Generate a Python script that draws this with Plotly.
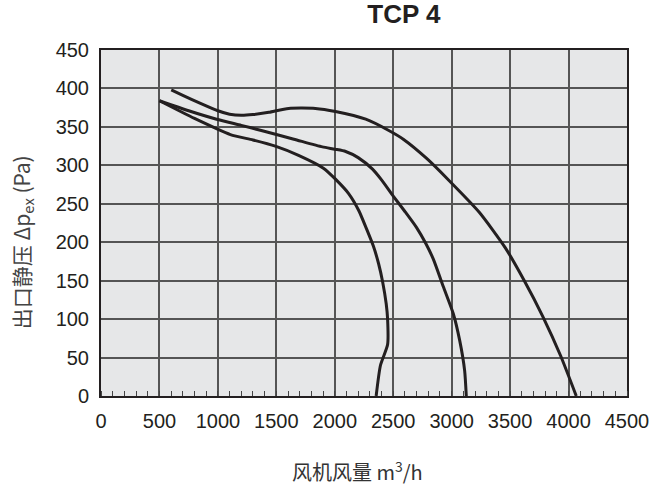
import plotly.graph_objects as go

# Curve data (airflow m3/h, static pressure Pa)
c1_x = [500, 800, 1107, 1300, 1491, 1690, 1906, 2006, 2120, 2206, 2270, 2330, 2375, 2410, 2440, 2452, 2452, 2391, 2354]
c1_y = [384, 361, 340, 333, 325, 313, 296, 282, 263, 241, 218, 195, 172, 148, 120, 100, 67, 40, 0]

c2_x = [500, 750, 989, 1200, 1380, 1650, 1894, 2000, 2093, 2200, 2323, 2400, 2500, 2600, 2700, 2780, 2843, 2929, 3014, 3069, 3111, 3125]
c2_y = [384, 371, 360, 352, 345, 334, 324, 321, 318, 310, 295, 281, 260, 240, 219, 198, 178, 142, 107, 72, 33, 0]

c3_x = [601, 700, 846, 1000, 1100, 1200, 1300, 1436, 1605, 1834, 2006, 2265, 2466, 2586, 2786, 2973, 3236, 3458, 3625, 3778, 3933, 4066]
c3_y = [398, 391, 381, 371, 366.5, 365, 366, 369, 374, 374, 370, 360, 345, 334, 309, 281, 239, 193, 149, 104, 52, 0]

x_ticks = [0, 500, 1000, 1500, 2000, 2500, 3000, 3500, 4000, 4500]
y_ticks = [0, 50, 100, 150, 200, 250, 300, 350, 400, 450]

title_text = "<b>TCP 4</b>"
x_title = "风机风量 m<sup>3</sup>/h"
y_title = "出口静压 Δp<sub>ex</sub> (Pa)"

line_color = "#231f20"
cjk_font = "Noto Sans CJK SC, Liberation Sans, sans-serif"

fig = go.Figure()
for xs, ys in [(c1_x, c1_y), (c2_x, c2_y), (c3_x, c3_y)]:
    fig.add_trace(go.Scatter(x=xs, y=ys, mode="lines",
                             line=dict(color=line_color, width=3, shape="spline", smoothing=0.6),
                             showlegend=False, hoverinfo="skip"))

fig.update_layout(
    width=670, height=489,
    margin=dict(l=101, r=43, t=50, b=93),
    paper_bgcolor="white",
    plot_bgcolor="#e6e7e8",
    font=dict(family="Liberation Sans, Arial, sans-serif", size=20, color="#231f20"),
    title=dict(text=title_text, x=0.576, xanchor="center", xref="paper", y=0.99, yanchor="top",
               font=dict(size=26, color="#231f20")),
    annotations=[
        dict(text=x_title, xref="paper", yref="paper", x=0.487, y=-0.217,
             xanchor="center", yanchor="middle", showarrow=False,
             font=dict(size=20, color="#333333", family=cjk_font)),
        dict(text=y_title, xref="paper", yref="paper", x=-0.150, y=0.445,
             xanchor="center", yanchor="middle", showarrow=False, textangle=-90,
             font=dict(size=21, color="#444444", family=cjk_font)),
    ],
)
fig.update_xaxes(
    range=[0, 4500], tickvals=x_ticks, ticktext=[str(v) for v in x_ticks],
    showgrid=True, gridcolor="#555555", gridwidth=1.5,
    showline=True, linecolor="#231f20", linewidth=2, mirror=True,
    ticks="", zeroline=False, ticklabelstandoff=6,
    minor=dict(ticks="inside", dtick=100, tick0=0, ticklen=5, tickcolor="#444444", tickwidth=1, showgrid=False),
    fixedrange=True,
)
fig.update_yaxes(
    range=[0, 450], tickvals=y_ticks, ticktext=[str(v) for v in y_ticks],
    showgrid=True, gridcolor="#555555", gridwidth=1.5,
    showline=True, linecolor="#231f20", linewidth=2, mirror=True,
    ticks="", zeroline=False, ticklabelstandoff=6,
    fixedrange=True,
)

fig.write_html("out.html")
